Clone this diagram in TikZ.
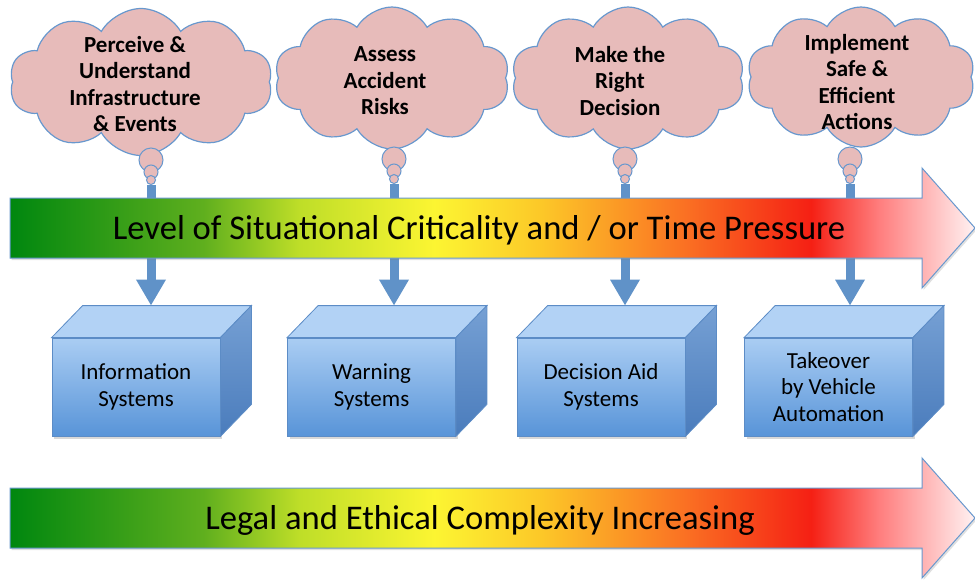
\documentclass[tikz,border=0pt]{standalone}
\usepackage{fontspec}
\setmainfont{Carlito}
\usetikzlibrary{shapes.symbols,arrows.meta,calc,shadows}

\definecolor{cloudpink}{RGB}{231,187,186}
\definecolor{cloudline}{RGB}{104,152,206}
\definecolor{boxline}{RGB}{92,140,198}
\definecolor{boxtop}{RGB}{170,205,243}
\definecolor{boxbottom}{RGB}{88,148,216}
\definecolor{boxlid}{RGB}{178,210,245}
\definecolor{boxsidetop}{RGB}{118,160,212}
\definecolor{boxsidebottom}{RGB}{74,124,188}
\definecolor{shaftblue}{RGB}{96,146,200}
\definecolor{crA}{RGB}{0,135,15}
\definecolor{crB}{RGB}{95,175,30}
\definecolor{crC}{RGB}{190,222,40}
\definecolor{crD}{RGB}{252,245,50}
\definecolor{crE}{RGB}{252,200,40}
\definecolor{crF}{RGB}{250,112,35}
\definecolor{crG}{RGB}{245,32,20}
\definecolor{crH}{RGB}{255,125,125}
\definecolor{crI}{RGB}{255,242,242}

\pgfdeclarehorizontalshading{critical}{100bp}{color(0bp)=(crA); color(25bp)=(crA);
  color(35bp)=(crB); color(40bp)=(crC); color(47bp)=(crD); color(52.5bp)=(crE);
  color(60bp)=(crF); color(66.5bp)=(crG); color(70bp)=(crH); color(75bp)=(crI); color(100bp)=(crI)}

\begin{document}
\begin{tikzpicture}[x=1pt,y=-1pt,
  thought/.style={cloud,cloud puffs=10,cloud puff arc=120,cloud ignores aspect,draw=cloudline,line width=1.2pt,fill=cloudpink,inner sep=0pt},
  idea/.style={align=center,font=\fontsize{23}{26.5}\selectfont\bfseries},
  bubble/.style={circle,draw=cloudline,line width=1pt,fill=cloudpink,inner sep=0pt},
  front/.style={draw=boxline,line width=.8pt,top color=boxtop,bottom color=boxbottom,minimum width=168pt,minimum height=98pt,
    align=center,font=\fontsize{23}{26.5}\selectfont,drop shadow={opacity=.3,shadow xshift=2pt,shadow yshift=-3pt}},
  lid/.style={draw=boxline,line width=.8pt,fill=boxlid},
  side/.style={draw=boxline,line width=.8pt,top color=boxsidetop,bottom color=boxsidebottom},
  shaft/.style={draw=shaftblue,line width=9pt,-{Triangle[width=28pt,length=26pt]}},
  bar/.style={draw=cloudline,line width=1pt,shading=critical,drop shadow={opacity=.25,shadow xshift=1.5pt,shadow yshift=-2pt}},
  bartext/.style={font=\fontsize{34.6}{40}\selectfont}]
\fill[white] (0,0) rectangle (975,579);
\useasboundingbox (0,0) rectangle (975,579);

% thoughts
\node[thought,minimum width=263pt,minimum height=147pt] (cloud1) at (141,82) {};
\node[idea] (idea1) at (135,84) {Perceive \&\\Understand\\Infrastructure\\\& Events};
\node[bubble,minimum size=24pt] (bub1a) at (151,160) {};
\node[bubble,minimum size=14pt] (bub1b) at (151,172) {};
\node[bubble,minimum size=9pt] (bub1c) at (151,180) {};

\node[thought,minimum width=235pt,minimum height=142pt] (cloud2) at (392,78) {};
\node[idea] (idea2) at (385,81) {Assess\\Accident\\Risks};
\node[bubble,minimum size=24pt] (bub2a) at (394,159) {};
\node[bubble,minimum size=14pt] (bub2b) at (394,171) {};
\node[bubble,minimum size=9pt] (bub2c) at (394,179) {};

\node[thought,minimum width=233pt,minimum height=142pt] (cloud3) at (628,78) {};
\node[idea] (idea3) at (620,81) {Make the\\Right\\Decision};
\node[bubble,minimum size=24pt] (bub3a) at (625,159) {};
\node[bubble,minimum size=14pt] (bub3b) at (625,171) {};
\node[bubble,minimum size=9pt] (bub3c) at (625,179) {};

\node[thought,minimum width=228pt,minimum height=140pt] (cloud4) at (861,77) {};
\node[idea] (idea4) at (857,82) {Implement\\Safe \&\\Efficient\\Actions};
\node[bubble,minimum size=24pt] (bub4a) at (850,159) {};
\node[bubble,minimum size=14pt] (bub4b) at (850,171) {};
\node[bubble,minimum size=9pt] (bub4c) at (850,179) {};

% systems
\node[front] (box1) at (136,387) {Information\\Systems};
\draw[lid] (box1.north west) -- ++(31,-32) -- ($(box1.north east)+(31,-32)$) -- (box1.north east) -- cycle;
\draw[side] (box1.north east) -- ++(31,-32) -- ($(box1.south east)+(31,-32)$) -- (box1.south east) -- cycle;

\node[front] (box2) at (371.5,387) {Warning\\Systems};
\draw[lid] (box2.north west) -- ++(31,-32) -- ($(box2.north east)+(31,-32)$) -- (box2.north east) -- cycle;
\draw[side] (box2.north east) -- ++(31,-32) -- ($(box2.south east)+(31,-32)$) -- (box2.south east) -- cycle;

\node[front] (box3) at (601,387) {Decision Aid\\Systems};
\draw[lid] (box3.north west) -- ++(31,-32) -- ($(box3.north east)+(31,-32)$) -- (box3.north east) -- cycle;
\draw[side] (box3.north east) -- ++(31,-32) -- ($(box3.south east)+(31,-32)$) -- (box3.south east) -- cycle;

\node[front] (box4) at (828.5,387) {Takeover\\by Vehicle\\Automation};
\draw[lid] (box4.north west) -- ++(31,-32) -- ($(box4.north east)+(31,-32)$) -- (box4.north east) -- cycle;
\draw[side] (box4.north east) -- ++(31,-32) -- ($(box4.south east)+(31,-32)$) -- (box4.south east) -- cycle;

% arrows down
\draw[shaft] (bub1c.south) -- ($(bub1c.south |- box1.north)+(0,-32)$);
\draw[shaft] (bub2c.south) -- ($(bub2c.south |- box2.north)+(0,-32)$);
\draw[shaft] (bub3c.south) -- ($(bub3c.south |- box3.north)+(0,-32)$);
\draw[shaft] (bub4c.south) -- ($(bub4c.south |- box4.north)+(0,-32)$);

% bars
\path[bar] (10,198) -- (922,198) -- (922,168) -- (975,228) -- (922,288) -- (922,258) -- (10,258) -- cycle;
\node[bartext] (pressure) at (479,230) {Level of Situational Criticality and / or Time Pressure};

\path[bar] (10,488) -- (922,488) -- (922,458) -- (975,518) -- (922,578) -- (922,548) -- (10,548) -- cycle;
\node[bartext] (complexity) at (480,520) {Legal and Ethical Complexity Increasing};
\end{tikzpicture}
\end{document}
